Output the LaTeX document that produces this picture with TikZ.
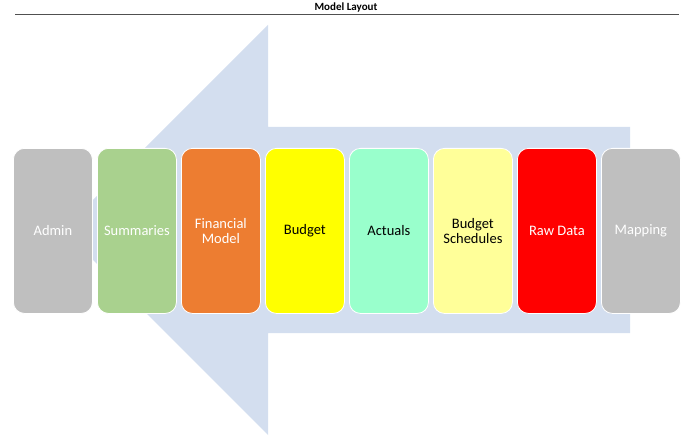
\documentclass[tikz,border=0pt]{standalone}
\usepackage{fontspec}
\setmainfont{Carlito}
\definecolor{arrowblue}{HTML}{D3DEEF}
\definecolor{cgray}{HTML}{BFBFBF}
\definecolor{cgreen}{HTML}{A9D18E}
\definecolor{corange}{HTML}{ED7D31}
\definecolor{cyellow}{HTML}{FFFF00}
\definecolor{cmint}{HTML}{99FFCC}
\definecolor{clight}{HTML}{FFFF99}
\definecolor{cred}{HTML}{FF0000}
\definecolor{rulegray}{HTML}{505050}
\begin{document}
\begin{tikzpicture}[x=1bp,y=-1bp,
  blk/.style={draw=white,line width=0.8bp,rounded corners=11bp,minimum width=79bp,minimum height=165bp,
    inner sep=0pt,align=center,font=\fontsize{14.5bp}{15bp}\selectfont,anchor=north west},
  wtxt/.style={text=white},
  btxt/.style={text=black}]
\useasboundingbox (0,0) rectangle (700,445);
\node[font=\bfseries\fontsize{11bp}{12bp}\selectfont,anchor=base] (title) at (346,11) {Model Layout};
\coordinate (ruleL) at (15,14.5);
\coordinate (ruleR) at (679,14.5);
\draw[rulegray,line width=1.3bp] (ruleL) -- (ruleR);
\fill[arrowblue] (63,230) -- (268,25) -- (268,127) -- (630,127) -- (630,333) -- (268,333) -- (268,435) -- cycle;
\node[blk,fill=cgray,wtxt] (admin) at (13,148) {Admin};
\node[blk,fill=cgreen,wtxt] (summ) at (97,148) {Summaries};
\node[blk,fill=corange,wtxt] (fin) at (181,148) {Financial\\Model};
\node[blk,fill=cyellow,btxt] (budget) at (265,148) {Budget};
\node[blk,fill=cmint,btxt] (actuals) at (349,148) {Actuals};
\node[blk,fill=clight,btxt] (sched) at (433,148) {Budget\\Schedules};
\node[blk,fill=cred,wtxt] (raw) at (517,148) {Raw Data};
\node[blk,fill=cgray,wtxt] (map) at (601,148) {Mapping};
\end{tikzpicture}
\end{document}
